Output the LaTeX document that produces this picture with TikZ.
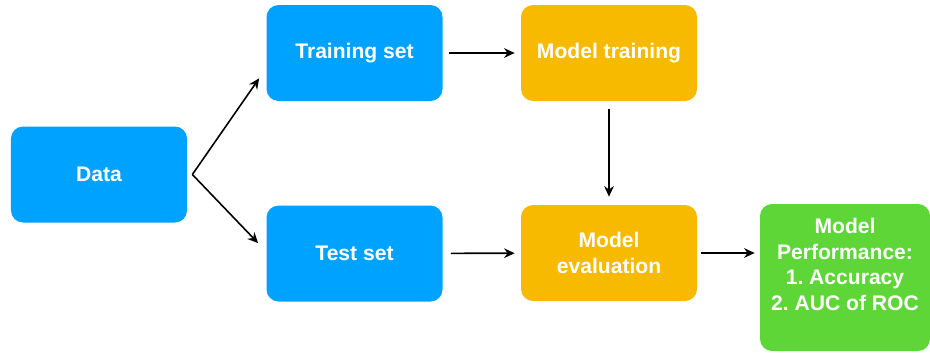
\documentclass[tikz,border=0pt]{standalone}
\usepackage{fontspec}
\setmainfont{Liberation Sans}
\usepackage{tikz}
\usetikzlibrary{arrows.meta}
\frenchspacing

\definecolor{setblue}{RGB}{0,162,255}
\definecolor{modelorange}{RGB}{247,186,0}
\definecolor{perfgreen}{RGB}{94,214,56}

\tikzset{
  box/.style={rounded corners=0.24cm, minimum width=3.52cm, minimum height=1.92cm,
    text=white, font=\fontsize{12}{14.7}\selectfont\bfseries, align=center},
  flow/.style={-{Stealth[length=6pt,width=5.5pt]}, line width=0.9pt, black},
}

\begin{document}
\begin{tikzpicture}
\useasboundingbox (0,0) rectangle (18.6,-7.04);
	\node[box, fill=setblue] (data) at (1.98,-3.49) {Data};
	\node[box, fill=setblue] (train) at (7.09,-1.06) {Training set};
	\node[box, fill=setblue] (test) at (7.09,-5.07) {Test set};
	\node[box, fill=modelorange] (fit) at (12.18,-1.06) {Model training};
	\node[box, fill=modelorange] (eval) at (12.18,-5.06) {Model\\evaluation};
	\node[box, fill=perfgreen, minimum width=3.4cm, minimum height=2.94cm] (perf) at (16.9,-5.55) {};
	\node[text=white, font=\fontsize{12}{14.7}\selectfont\bfseries, align=center] (perftext) at (16.9,-5.29) {Model\\Performance:\\1. Accuracy\\2. AUC of ROC};
	\coordinate (fork) at ([xshift=0.1cm]data.east);
	\draw[flow] (fork) -- ([xshift=-0.14cm, yshift=0.46cm]train.south west);
	\draw[flow] (fork) -- ([xshift=-0.16cm, yshift=-0.76cm]test.north west);
	\draw[flow, shorten <=0.12cm, shorten >=0.12cm] (train) -- (fit);
	\draw[flow, shorten <=0.16cm, shorten >=0.16cm] (fit) -- (eval);
	\draw[flow, shorten <=0.16cm, shorten >=0.12cm] (test) -- (eval);
	\draw[flow, shorten <=0.08cm, shorten >=0.1cm] (eval.east) -- (eval.east -| perf.west);
\end{tikzpicture}
\end{document}
